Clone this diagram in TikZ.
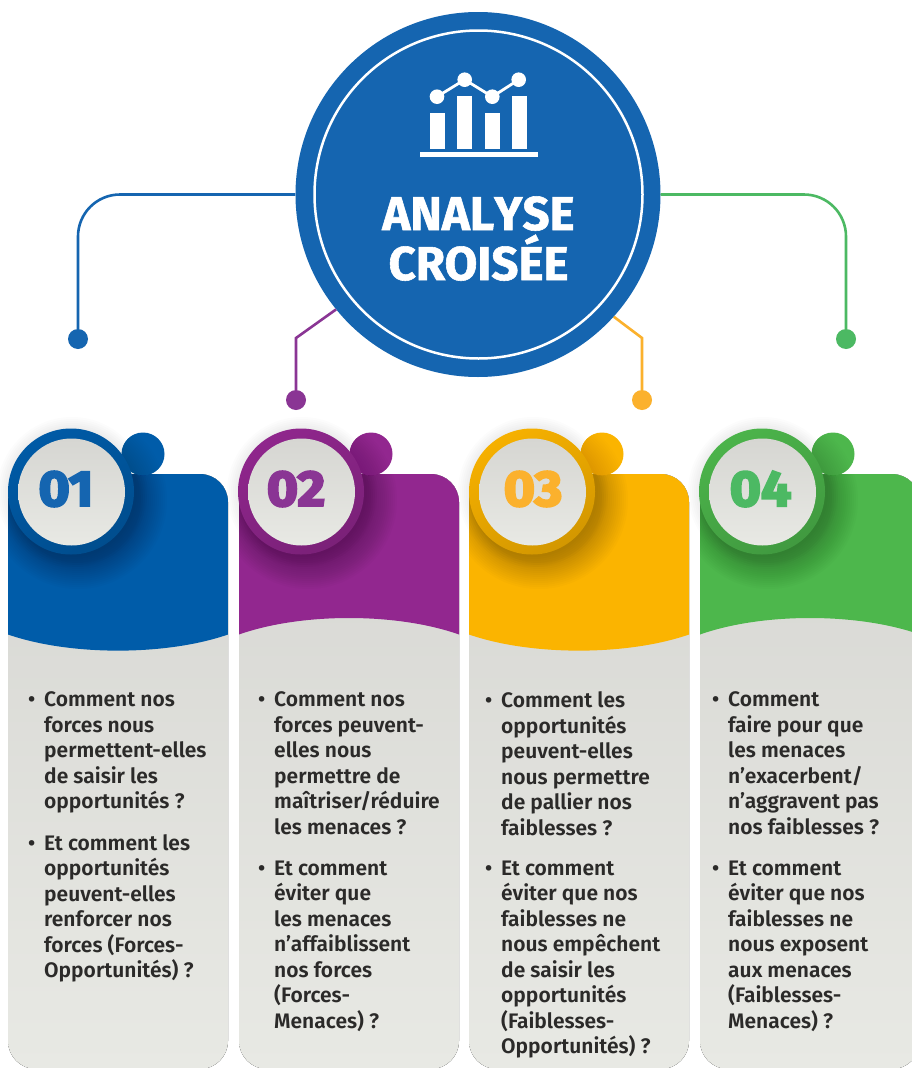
\documentclass[tikz,border=0pt]{standalone}
\usepackage{fontspec}
\usetikzlibrary{calc}
\setmainfont{Fira Sans SemiBold}
\newfontfamily\titlefont{Fira Sans Bold}[FakeBold=1.2]
\newfontfamily\titlefontwide{Fira Sans Bold}[FakeBold=1.2,Kerning=Off]
\newfontfamily\numfont{Fira Sans Bold}[FakeBold=4.5,FakeStretch=1.07]
\definecolor{hubblue}{HTML}{1565B0}
\definecolor{cardA}{HTML}{005CA9}
\definecolor{cardB}{HTML}{92278F}
\definecolor{cardC}{HTML}{FBB400}
\definecolor{cardD}{HTML}{4DB74C}
\definecolor{numA}{HTML}{1565B0}
\definecolor{numB}{HTML}{8A3594}
\definecolor{numC}{HTML}{FBB12D}
\definecolor{numD}{HTML}{4CB963}
\definecolor{bodytext}{HTML}{2B2A29}
\definecolor{greyTop}{HTML}{D6D6D2}
\definecolor{greyBot}{HTML}{E8E9E4}
\tikzset{
  disc/.style={circle,inner sep=0pt,minimum size=#1,draw=none},
  link/.style={line width=2.6pt},
  para/.style={anchor=north west,inner sep=0pt,align=left,text=bodytext,font=\fontsize{21}{25.5}\selectfont},
  num/.style={inner sep=0pt,font=\numfont\fontsize{50}{50}\selectfont},
  headline/.style={text=white,inner sep=0pt,anchor=base,font=\titlefont\fontsize{47.5}{47.5}\selectfont},
}
\newcommand\cardpath[1]{(#1,474) rectangle ++(220,595)}
\begin{document}
\begin{tikzpicture}[x=1pt,y=-1pt]
\useasboundingbox (0,0) rectangle (912,1068);
\clip (0,0) rectangle (912,1068);
\fill[white] (0,0) rectangle (912,1068);
\newcommand\badge[8]{%
  % card body
  \fill[rounded corners=28pt,top color=greyTop,bottom color=greyBot] \cardpath{#2};
  \begin{scope}
    \clip[rounded corners=28pt] \cardpath{#2};
    \fill[#3] (#2,470) -- (#2,634.5) .. controls ($(#2,#4)+(62,0)$) and ($(#2,#4)+(158,0)$) .. ($(#2,634.5)+(220,0)$) -- ($(#2,470)+(220,0)$) -- cycle;
    \foreach \i in {0,...,13}{\fill[black,opacity=.016] (#5+7,500) circle ({63+26-2*\i});}
  \end{scope}
  % faint glow on the white
  \foreach \i in {0,...,5}{\fill[black,opacity=.01] (#5+1,492) circle ({63+12-2*\i});}
  % small circle
  \node[disc=43pt,fill=#3] (small#1) at (#6,454) {};
  \begin{scope}
    \clip (#6,454) circle (21.5);
    \foreach \i in {0,...,13}{\fill[black,opacity=.009] (#5+7,500) circle ({63+26-2*\i});}
  \end{scope}
  % ring and face
  \node[disc=126pt,shading=axis,top color=#3!98!black,bottom color=#3!84!black,shading angle=30] (ring#1) at (#5,491.5) {};
  \node[disc=107pt,top color=greyTop,bottom color=greyBot] (face#1) at (#5+.5,492) {};
  \node[num,text=num#1] (number#1) at (#8,489) {#7};
}
% connectors and hub
\node[disc=365pt,fill=hubblue] (hub) at (478,194.5) {};
\node[disc=328pt,draw=white,line width=2.5pt] (hubring) at (478.5,194.5) {};
\node[disc=20pt,fill=hubblue] (dotA) at (78,339) {};
\node[disc=20pt,fill=numB] (dotB) at (296,400) {};
\node[disc=20pt,fill=numC] (dotC) at (642,400) {};
\node[disc=20pt,fill=numD] (dotD) at (846,339) {};
\coordinate (bendB) at (296,338);
\coordinate (bendC) at (642,338);
\draw[link,hubblue,rounded corners=42pt] (hub.180) -| (dotA);
\draw[link,numD,rounded corners=42pt] (hub.0) -| (dotD);
\draw[link,numB] (hub.219.3) -- (bendB) -- (dotB);
\draw[link,numC] (hub.-42.4) -- (bendC) -- (dotC);
% chart icon
\tikzset{iconbar/.style={fill=white,draw=none}}
\fill[iconbar] (430,113) rectangle (444.5,149);
\fill[iconbar] (457,96) rectangle (472,149);
\fill[iconbar] (485,113) rectangle (499.5,149);
\fill[iconbar] (512,96) rectangle (527,149);
\fill[iconbar] (419.5,151.7) rectangle (537.5,157);
\node[disc=14.6pt,fill=white] (ptA) at (437,96.7) {};
\node[disc=14.6pt,fill=white] (ptB) at (464.7,79.7) {};
\node[disc=14.6pt,fill=white] (ptC) at (492.3,96.7) {};
\node[disc=14.6pt,fill=white] (ptD) at (518.7,79.7) {};
\draw[white,line width=2.8pt] (ptA.center) -- (ptB.center) -- (ptC.center) -- (ptD.center);
\node[headline,font=\titlefontwide\fontsize{47.5}{47.5}\selectfont] (titleA) at (478.5,230) {ANALYSE};
\node[headline] (titleB) at (478.5,280) {CROISÉE};
% cards
\badge{A}{8}{cardA}{656}{71}{143}{01}{66}
\badge{B}{239}{cardB}{612.5}{301}{371}{02}{296}
\badge{C}{469}{cardC}{656}{532}{602}{03}{533}
\badge{D}{700}{cardD}{612.5}{762}{833}{04}{760.5}
% texts
\newcommand\hang{\llap{•\hspace{9pt}}}
\node[para] (tA1) at (44,691.5) {\hang Comment nos\\forces nous\\permettent-elles\\de saisir les\\opportunités ?};
\node[para] (tA2) at (44,834) {\hang Et comment les\\opportunités\\peuvent-elles\\renforcer nos\\forces (Forces-\\Opportunités) ?};
\node[para] (tB1) at (274,691.5) {\hang Comment nos\\forces peuvent-\\elles nous\\permettre de\\maîtriser/réduire\\les menaces ?};
\node[para] (tB2) at (274,860.5) {\hang Et comment\\éviter que\\les menaces\\n’affaiblissent\\nos forces\\(Forces-\\Menaces) ?};
\node[para] (tC1) at (501,691.5) {\hang Comment les\\opportunités\\peuvent-elles\\nous permettre\\de pallier nos\\faiblesses ?};
\node[para] (tC2) at (501,860.5) {\hang Et comment\\éviter que nos\\faiblesses ne\\nous empêchent\\de saisir les\\opportunités\\(Faiblesses-\\Opportunités) ?};
\node[para] (tD1) at (728,691.5) {\hang Comment\\faire pour que\\les menaces\\n’exacerbent/\\n’aggravent pas\\nos faiblesses ?};
\node[para] (tD2) at (728,860.5) {\hang Et comment\\éviter que nos\\faiblesses ne\\nous exposent\\aux menaces\\(Faiblesses-\\Menaces) ?};
\end{tikzpicture}
\end{document}
